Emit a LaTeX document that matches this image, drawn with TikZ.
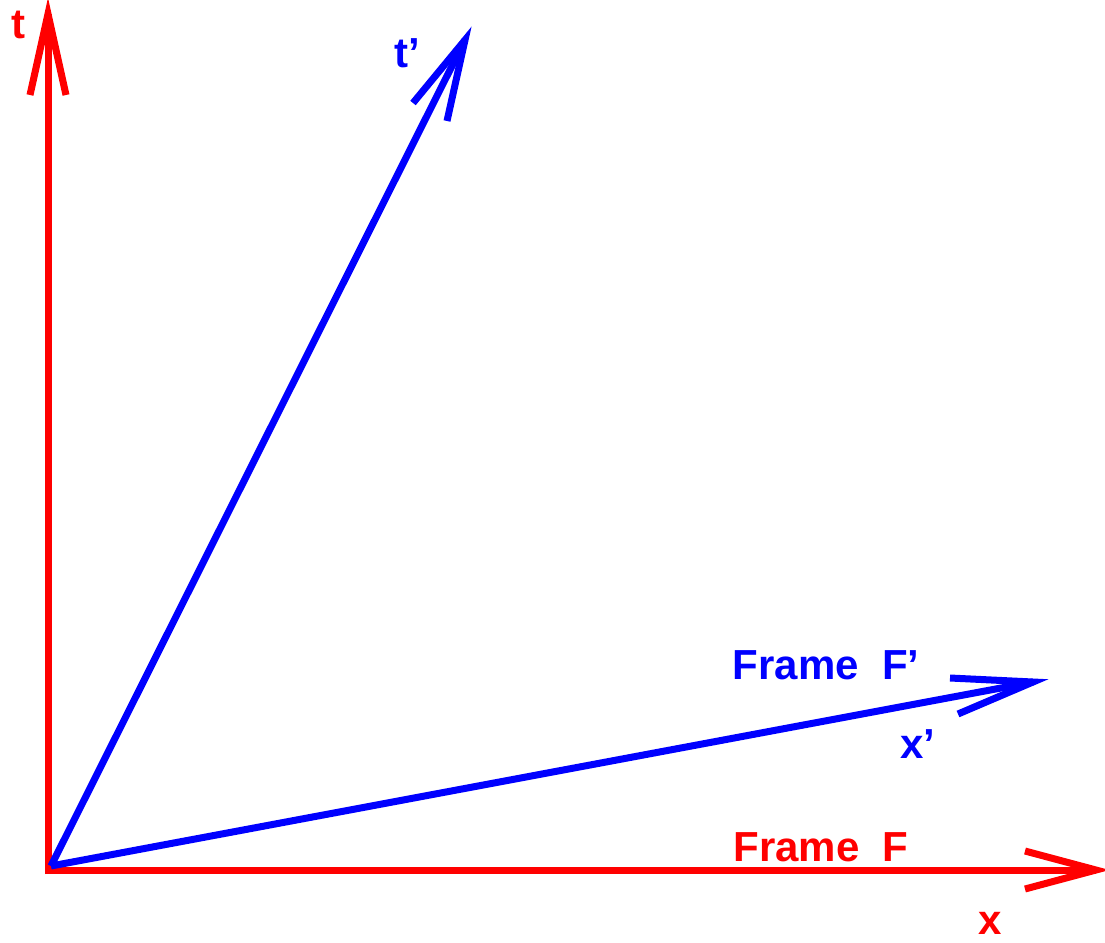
\documentclass[tikz,border=0pt]{standalone}
\usepackage{fontspec}
\setmainfont{Liberation Sans}
\definecolor{axred}{RGB}{255,0,0}
\definecolor{axblue}{RGB}{0,0,255}
\begin{document}
\begin{tikzpicture}[x=1pt,y=-1pt,
  axis/.style={line width=7pt,line join=miter,line cap=butt},
  lbl/.style={font=\fontsize{42}{48}\selectfont\bfseries,inner sep=0pt}]
\useasboundingbox (0,0) rectangle (1105,942);
% coordinates
\coordinate (O) at (48,870);
\coordinate (Ob) at (51,866);
\coordinate (ttip) at (48,14);
\coordinate (xtip) at (1096,870);
\coordinate (tptip) at (465,40);
\coordinate (xptip) at (1033,682);
% red axes
\draw[axis,axred] (48,874) -- (ttip);
\draw[axis,axred] (30,95) -- (ttip) -- (66,95);
\draw[axis,axred] (45,870) -- (xtip);
\draw[axis,axred] (1025,851) -- (xtip) -- (1025,889);
% blue axes
\draw[axis,axblue] (Ob) -- (tptip);
\draw[axis,axblue] (413,103) -- (tptip) -- (447,121);
\draw[axis,axblue] (Ob) -- (xptip);
\draw[axis,axblue] (950,678) -- (xptip) -- (958,714);
% labels
\node[lbl,text=axred] (tl) at (18,25) {t};
\node[lbl,text=axblue] (tpl) at (407,53) {t’};
\node[lbl,text=axblue] (fpl) at (826,665) {Frame\ \ F’};
\node[lbl,text=axblue] (xpl) at (918,744) {x’};
\node[lbl,text=axred] (fl) at (821,847) {Frame\ \ F};
\node[lbl,text=axred] (xl) at (990,923) {x};
\end{tikzpicture}
\end{document}
